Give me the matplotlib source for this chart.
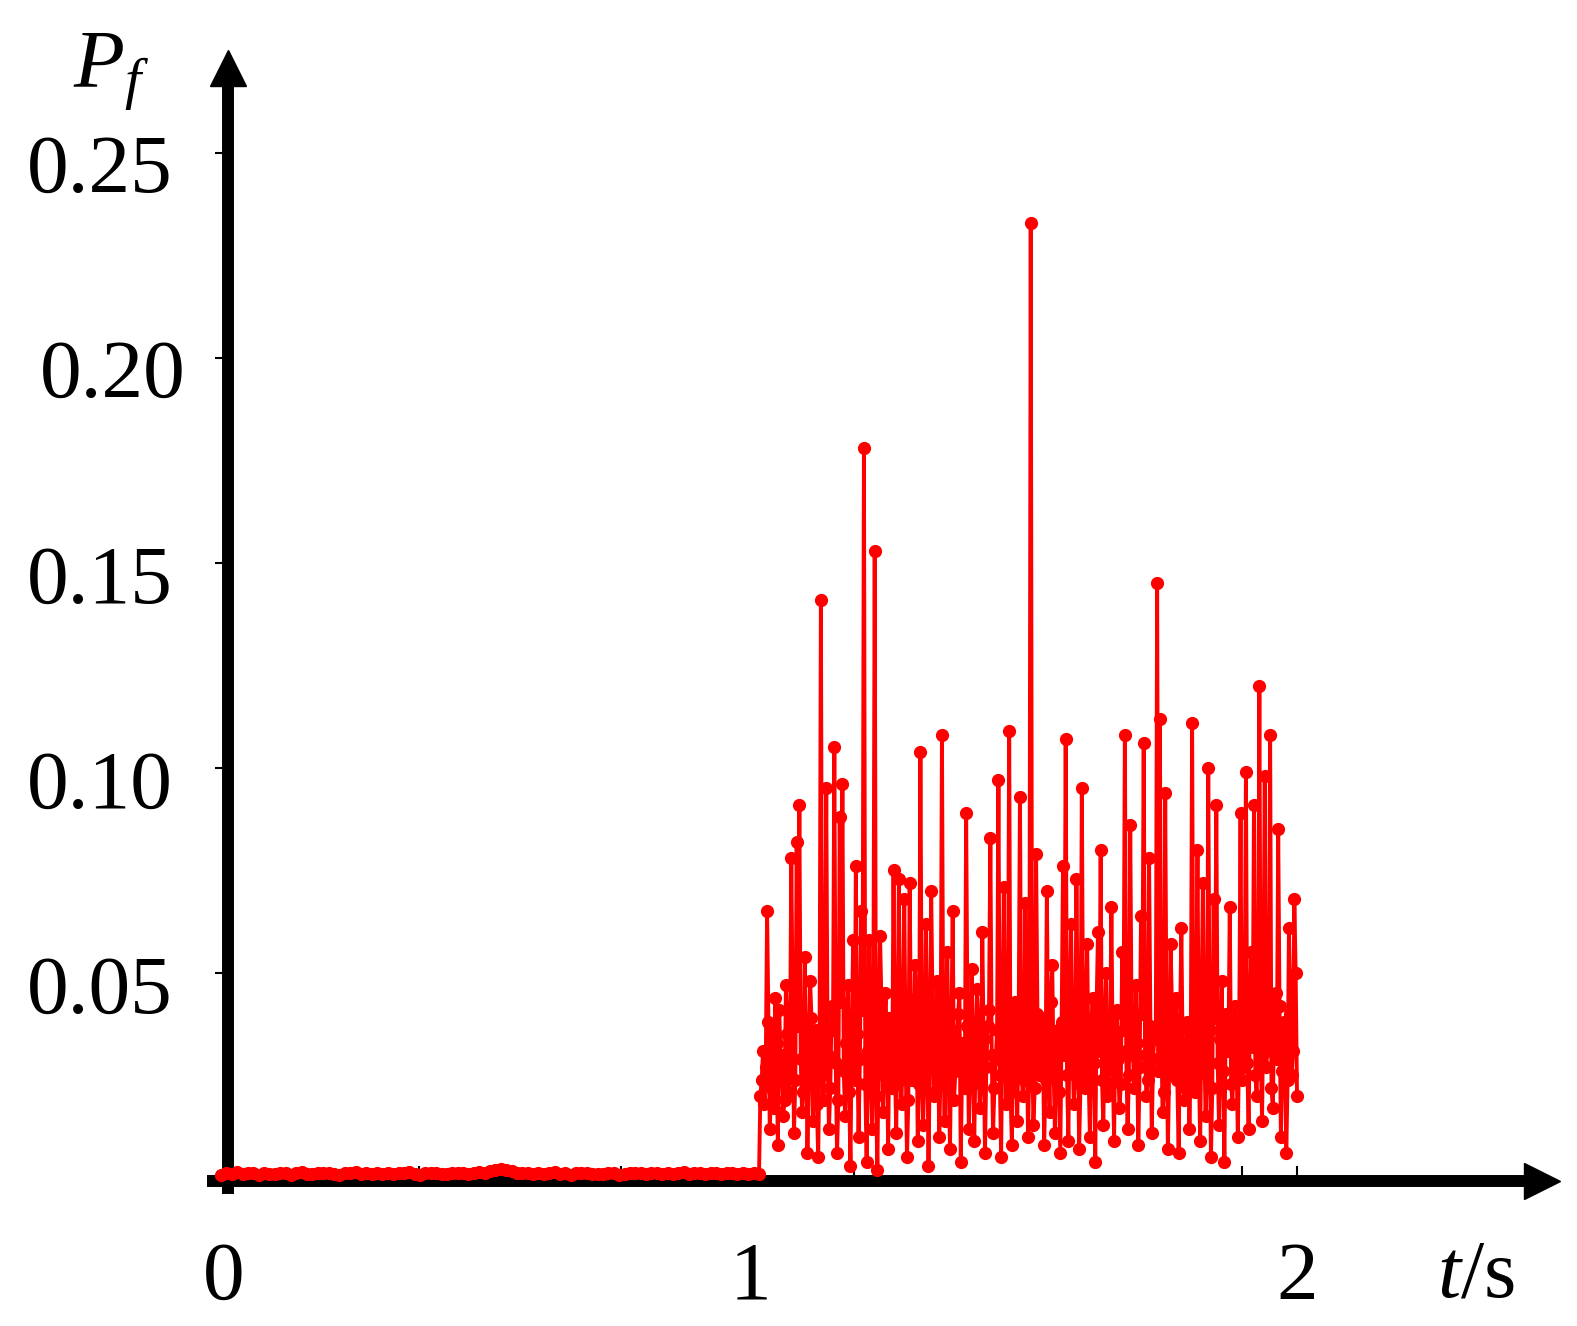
import numpy as np
import matplotlib
matplotlib.use("Agg")
import matplotlib.pyplot as plt

# -------------------------------------------------
# 1. Дані
# -------------------------------------------------
# до 1 с — майже нуль (крок 0.01 с)
base_values = [
    0.0008, 0.0012, 0.0010, 0.0014, 0.0009, 0.0011, 0.0013, 0.0008, 0.0012, 0.0010,
    0.0009, 0.0013, 0.0011, 0.0008, 0.0012, 0.0014, 0.0010, 0.0009, 0.0011, 0.0013,
    0.0012, 0.0010, 0.0008, 0.0011, 0.0013, 0.0014, 0.0010, 0.0012, 0.0009, 0.0011,
    0.0010, 0.0013, 0.0009, 0.0012, 0.0011, 0.0014, 0.0010, 0.0008, 0.0012, 0.0011,
    0.0013, 0.0010, 0.0009, 0.0012, 0.0011, 0.0013, 0.0010, 0.0012, 0.0014, 0.0011,
    0.0016, 0.0019, 0.0022, 0.0020, 0.0017, 0.0013, 0.0011, 0.0012, 0.0010, 0.0013,
    0.0009, 0.0013, 0.0014, 0.0010, 0.0011, 0.0008, 0.0012, 0.0013, 0.0011, 0.0010,
    0.0010, 0.0009, 0.0012, 0.0011, 0.0008, 0.0010, 0.0013, 0.0012, 0.0011, 0.0009,
    0.0011, 0.0013, 0.0010, 0.0012, 0.0009, 0.0011, 0.0014, 0.0010, 0.0012, 0.0011,
    0.0009, 0.0011, 0.0013, 0.0010, 0.0012, 0.0011, 0.0009, 0.0012, 0.0010, 0.0011,
    0.0010,
]

# після 1 с — збурення (крок 0.0025 с, від 1.0025 до 2.0)
fault_values = [
    0.020, 0.024, 0.031, 0.018, 0.027, 0.065, 0.038, 0.012, 0.022, 0.036,
    0.017, 0.044, 0.033, 0.008, 0.041, 0.030, 0.026, 0.015, 0.019, 0.047,
    0.035, 0.021, 0.028, 0.078, 0.042, 0.011, 0.024, 0.082, 0.037, 0.091,
    0.029, 0.016, 0.021, 0.054, 0.034, 0.006, 0.025, 0.048, 0.039, 0.014,
    0.027, 0.036, 0.018, 0.005, 0.032, 0.141, 0.025, 0.019, 0.040, 0.095,
    0.030, 0.012, 0.022, 0.042, 0.036, 0.105, 0.028, 0.006, 0.019, 0.088,
    0.043, 0.096, 0.026, 0.015, 0.033, 0.047, 0.021, 0.003, 0.038, 0.058,
    0.024, 0.076, 0.035, 0.010, 0.029, 0.065, 0.041, 0.178, 0.023, 0.004,
    0.031, 0.058, 0.026, 0.012, 0.037, 0.153, 0.020, 0.002, 0.034, 0.059,
    0.043, 0.016, 0.025, 0.045, 0.032, 0.007, 0.039, 0.033, 0.022, 0.075,
    0.028, 0.011, 0.036, 0.073, 0.024, 0.018, 0.041, 0.068, 0.030, 0.005,
    0.019, 0.072, 0.035, 0.024, 0.027, 0.052, 0.044, 0.009, 0.023, 0.104,
    0.033, 0.013, 0.025, 0.062, 0.038, 0.003, 0.029, 0.070, 0.042, 0.020,
    0.021, 0.048, 0.035, 0.010, 0.027, 0.108, 0.031, 0.014, 0.040, 0.055,
    0.024, 0.007, 0.036, 0.065, 0.019, 0.026, 0.032, 0.040, 0.045, 0.004,
    0.028, 0.033, 0.022, 0.089, 0.037, 0.012, 0.026, 0.051, 0.034, 0.009,
    0.029, 0.046, 0.038, 0.017, 0.023, 0.060, 0.034, 0.006, 0.027, 0.037,
    0.041, 0.083, 0.030, 0.011, 0.022, 0.029, 0.036, 0.097, 0.025, 0.005,
    0.039, 0.071, 0.028, 0.018, 0.033, 0.109, 0.021, 0.008, 0.040, 0.043,
    0.026, 0.014, 0.035, 0.093, 0.031, 0.020, 0.024, 0.067, 0.037, 0.010,
    0.028, 0.233, 0.034, 0.013, 0.022, 0.079, 0.040, 0.025, 0.029, 0.039,
    0.036, 0.008, 0.024, 0.070, 0.032, 0.016, 0.043, 0.052, 0.027, 0.011,
    0.035, 0.036, 0.021, 0.006, 0.038, 0.076, 0.030, 0.107, 0.025, 0.009,
    0.041, 0.062, 0.033, 0.018, 0.026, 0.073, 0.037, 0.007, 0.023, 0.095,
    0.032, 0.022, 0.039, 0.057, 0.026, 0.010, 0.035, 0.044, 0.028, 0.004,
    0.042, 0.060, 0.031, 0.080, 0.024, 0.013, 0.037, 0.050, 0.020, 0.023,
    0.034, 0.066, 0.027, 0.009, 0.040, 0.041, 0.029, 0.017, 0.023, 0.055,
    0.036, 0.108, 0.031, 0.012, 0.025, 0.086, 0.038, 0.030, 0.022, 0.047,
    0.033, 0.008, 0.027, 0.064, 0.040, 0.106, 0.030, 0.020, 0.024, 0.078,
    0.037, 0.011, 0.029, 0.035, 0.034, 0.145, 0.026, 0.112, 0.039, 0.016,
    0.021, 0.094, 0.035, 0.007, 0.028, 0.057, 0.042, 0.025, 0.031, 0.044,
    0.024, 0.006, 0.037, 0.061, 0.029, 0.019, 0.022, 0.038, 0.036, 0.012,
    0.030, 0.111, 0.024, 0.021, 0.038, 0.080, 0.027, 0.009, 0.041, 0.072,
    0.033, 0.015, 0.025, 0.100, 0.036, 0.005, 0.022, 0.068, 0.039, 0.091,
    0.028, 0.013, 0.034, 0.048, 0.026, 0.004, 0.040, 0.036, 0.031, 0.066,
    0.023, 0.018, 0.037, 0.042, 0.029, 0.010, 0.035, 0.089, 0.024, 0.027,
    0.036, 0.099, 0.028, 0.012, 0.041, 0.055, 0.032, 0.091, 0.025, 0.020,
    0.039, 0.120, 0.030, 0.014, 0.043, 0.098, 0.027, 0.031, 0.035, 0.108,
    0.022, 0.017, 0.038, 0.045, 0.029, 0.085, 0.042, 0.010, 0.026, 0.038,
    0.034, 0.006, 0.024, 0.061, 0.040, 0.025, 0.031, 0.068, 0.050, 0.020,
]

ytick_vals = [0.05, 0.10, 0.15, 0.20, 0.25]
ytick_labels = ['0.05', '0.10', '0.15', '0.20', '0.25']
xtick_pos = [0.368, 0.743, 1.177, 1.898, 2.0]
xlabel_pos = [0.005, 0.985, 2.0]
xlabel_texts = ['0', '1', '2']

t_base = np.linspace(0.0, 1.0, len(base_values))
t_fault = np.linspace(1.0025, 2.0, len(fault_values))
t = np.concatenate([t_base, t_fault])
pf = np.concatenate([base_values, fault_values])

# -------------------------------------------------
# 2. Шрифти
# -------------------------------------------------
plt.rcParams['font.family'] = ['Liberation Serif', 'DejaVu Serif']
plt.rcParams['mathtext.fontset'] = 'custom'
plt.rcParams['mathtext.rm'] = 'Liberation Serif'
plt.rcParams['mathtext.it'] = 'Liberation Serif:italic'
fs = 60

# -------------------------------------------------
# 3. Побудова
# -------------------------------------------------
fig = plt.figure(figsize=(15.77, 13.26), dpi=100)
ax = fig.add_axes([0, 0, 1, 1])
ax.set_xlim(-0.4108, 2.5204)
ax.set_ylim(-0.0361, 0.2873)

ax.plot(t, pf, color='#ff0000', lw=2.8, marker='o', ms=8.5, zorder=3,
        clip_on=False)

# осі зі стрілками
for s in ['top', 'right']:
    ax.spines[s].set_visible(False)
ax.spines['left'].set_position(('data', 0.013))
ax.spines['bottom'].set_position(('data', -0.0007))
ax.spines['left'].set_bounds(-0.0025, 0.268)
ax.spines['bottom'].set_bounds(-0.015, 2.44)
ax.spines['left'].set_linewidth(8.6)
ax.spines['bottom'].set_linewidth(8.6)
ax.spines['left'].set_zorder(2)
ax.spines['bottom'].set_zorder(2)

ax.plot([0.013], [0.2707], marker='^', ms=26, color='black', clip_on=False)
ax.plot([2.455], [-0.0007], marker='>', ms=26, color='black', clip_on=False)

ax.set_yticks(ytick_vals)
ax.set_xticks(xtick_pos)
ax.tick_params(axis='y', direction='out', length=9.5, width=1.5,
               labelleft=False)
ax.tick_params(axis='x', direction='in', length=11, width=1.5,
               labelbottom=False)

# підписи поділок
for v, lab in zip(ytick_vals, ytick_labels):
    x_txt = -0.065 if lab == '0.20' else -0.0892
    ax.text(x_txt, v - 0.0096, lab, fontsize=fs, ha='right', va='baseline')

for v, lab in zip(xlabel_pos, xlabel_texts):
    ax.text(v, -0.0295, lab, fontsize=fs, ha='center', va='baseline')

ax.text(-0.275, 0.2661, r'$P_f$', fontsize=fs, ha='left', va='baseline')
ax.text(2.26, -0.029, r'$t$/s', fontsize=fs, ha='left', va='baseline')

plt.savefig('out.png', dpi=100)
